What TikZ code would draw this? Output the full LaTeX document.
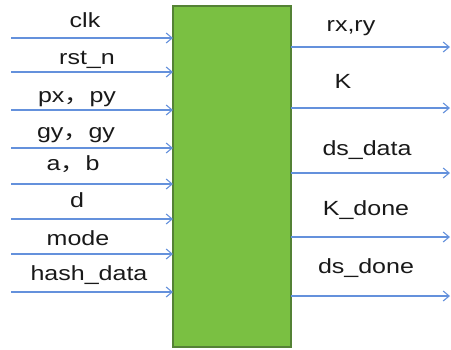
\documentclass[tikz,border=0pt]{standalone}
\usepackage{fontspec}
\setmainfont{Liberation Sans}[FakeStretch=1.22]
\newfontfamily\cjk{Noto Sans CJK SC}[FakeStretch=1.22]
\usetikzlibrary{arrows.meta}
\definecolor{blkfill}{RGB}{122,192,66}
\definecolor{blkedge}{RGB}{84,130,53}
\definecolor{sigblue}{RGB}{100,145,220}
\definecolor{txt}{RGB}{25,25,25}
\newcommand{\fwcomma}{{\cjk ，}}
\begin{document}
\begin{tikzpicture}[x=1pt,y=-1pt,
  sig/.style={draw=sigblue,line width=1.3pt,-{Straight Barb[length=6pt,width=10pt,line width=1.1pt]}},
  lbl/.style={anchor=base,inner sep=0pt,text=txt,font=\fontsize{20.5}{24}\selectfont},
  blkbox/.style={draw=blkedge,line width=1.2pt,fill=blkfill,inner sep=0pt,outer sep=0pt,
    minimum width=118pt,minimum height=341pt}]
\useasboundingbox (0,0) rectangle (451,349);
% module block
\node[blkbox] (blk) at (232,176.5) {};
% input ports
\foreach \n/\y in {1/38,2/72,3/110,4/148,5/184,6/219,7/254,8/292}{
  \coordinate (in\n) at (11,\y);
  \draw[sig] (in\n) -- (in\n -| blk.west);
}
% output ports
\foreach \n/\y in {1/47,2/108,3/173,4/237,5/296}{
  \coordinate (out\n) at (450,\y);
  \draw[sig] (out\n -| blk.east) -- (out\n);
}
% input labels
\node[lbl] (lclk)  at (85,27)  {clk};
\node[lbl] (lrst)  at (87,64)  {rst\_n};
\node[lbl] (lpxy)  at (77,102) {px\fwcomma py};
\node[lbl] (lgy)   at (76,138) {gy\fwcomma gy};
\node[lbl] (lab)   at (73,170) {a\fwcomma b};
\node[lbl] (ld)    at (77,207) {d};
\node[lbl] (lmode) at (78,245) {mode};
\node[lbl] (lhash) at (89,280) {hash\_data};
% output labels
\node[lbl] (lrxy)  at (351,31)  {rx,ry};
\node[lbl] (lk)    at (343,88)  {K};
\node[lbl] (lds)   at (367,155) {ds\_data};
\node[lbl] (lkd)   at (366,215) {K\_done};
\node[lbl] (ldsd)  at (366,273) {ds\_done};
\end{tikzpicture}
\end{document}
